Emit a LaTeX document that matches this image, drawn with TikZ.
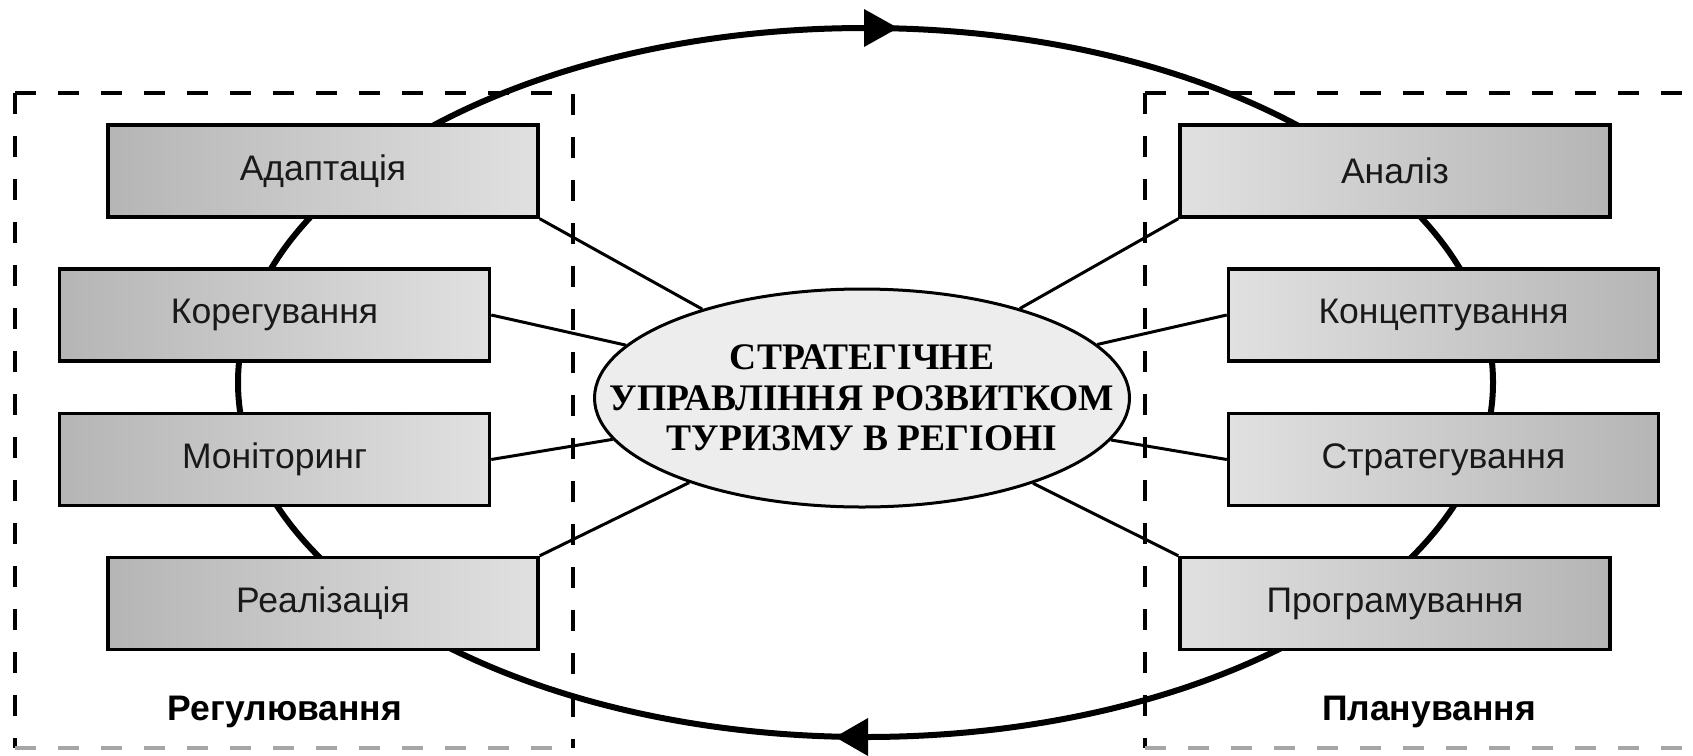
\documentclass[tikz,border=0pt]{standalone}
\usepackage{fontspec}
\setmainfont{Liberation Sans}
\newfontfamily\corefont{Liberation Serif}
\usetikzlibrary{shapes.geometric}
\begin{document}
\begin{tikzpicture}[x=1pt,y=-1pt,
  box/.style={draw=black, line width=3.5pt, minimum width=430pt, minimum height=92pt,
    inner sep=0pt, font=\fontsize{35.5}{40}\selectfont, text=black!90},
  lbox/.style={box, left color=black!29, right color=black!12},
  rbox/.style={box, left color=black!12, right color=black!29},
  cycleline/.style={line width=6pt},
  conn/.style={line width=3pt},
  dashline/.style={line width=4pt, dash pattern=on 21pt off 22pt},
  dashfaint/.style={line width=3.5pt, dash pattern=on 21pt off 22pt, draw=black!35},
  coreshape/.style={ellipse, draw=black, line width=3pt, fill=black!7,
    minimum width=535pt, minimum height=218pt, inner sep=0pt},
  coretext/.style={align=center, inner sep=0pt,
    font=\corefont\bfseries\fontsize{37.5}{40.5}\selectfont},
  grp/.style={font=\bfseries\fontsize{35.5}{40}\selectfont, inner sep=0pt}
]
\useasboundingbox (0,0) rectangle (1693,755);

% big cycle
\draw[cycleline] (865.5,382.5) ellipse [x radius=627.5pt, y radius=354.5pt];
\fill (864,9) -- (898,28) -- (864,47) -- cycle;
\fill (868,718) -- (835,737) -- (868,756) -- cycle;

% dashed frames
\draw[dashline] (15,93) -- (15,748);
\draw[dashline] (15,93) -- (573,93) -- (573,748);
\draw[dashfaint] (15,748) -- (573,748);
\draw[dashline] (1145,93) -- (1145,748);
\draw[dashline] (1145,93) -- (1693,93);
\draw[dashfaint] (1145,748) -- (1693,748);

% core
\node[coreshape] (core) at (862,398) {};
\node[coretext] (coretxt) at (core.center) {СТРАТЕГІЧНЕ\\УПРАВЛІННЯ РОЗВИТКОМ\\ТУРИЗМУ В РЕГІОНІ};

% left boxes
\node[lbox] (adapt) at (323,171) {Адаптація};
\node[lbox] (korr)  at (274.5,315) {Корегування};
\node[lbox] (monit) at (274.5,459.5) {Моніторинг};
\node[lbox] (real)  at (323,603.5) {Реалізація};

% right boxes
\node[rbox] (anal)  at (1395,171) {Аналіз};
\node[rbox] (konc)  at (1443.5,315) {Концептування};
\node[rbox] (strat) at (1443.5,459.5) {Стратегування};
\node[rbox] (prog)  at (1395,603.5) {Програмування};

% connectors
\draw[conn] (adapt.south east) -- (core);
\draw[conn] (korr.east) -- (core);
\draw[conn] (monit.east) -- (core);
\draw[conn] (real.north east) -- (core);
\draw[conn] (anal.south west) -- (core);
\draw[conn] (konc.west) -- (core);
\draw[conn] (strat.west) -- (core);
\draw[conn] (prog.north west) -- (core);

% group labels
\node[grp] (reg) at (285,712) {Регулювання};
\node[grp] (plan) at (1429,712) {Планування};
\end{tikzpicture}
\end{document}
